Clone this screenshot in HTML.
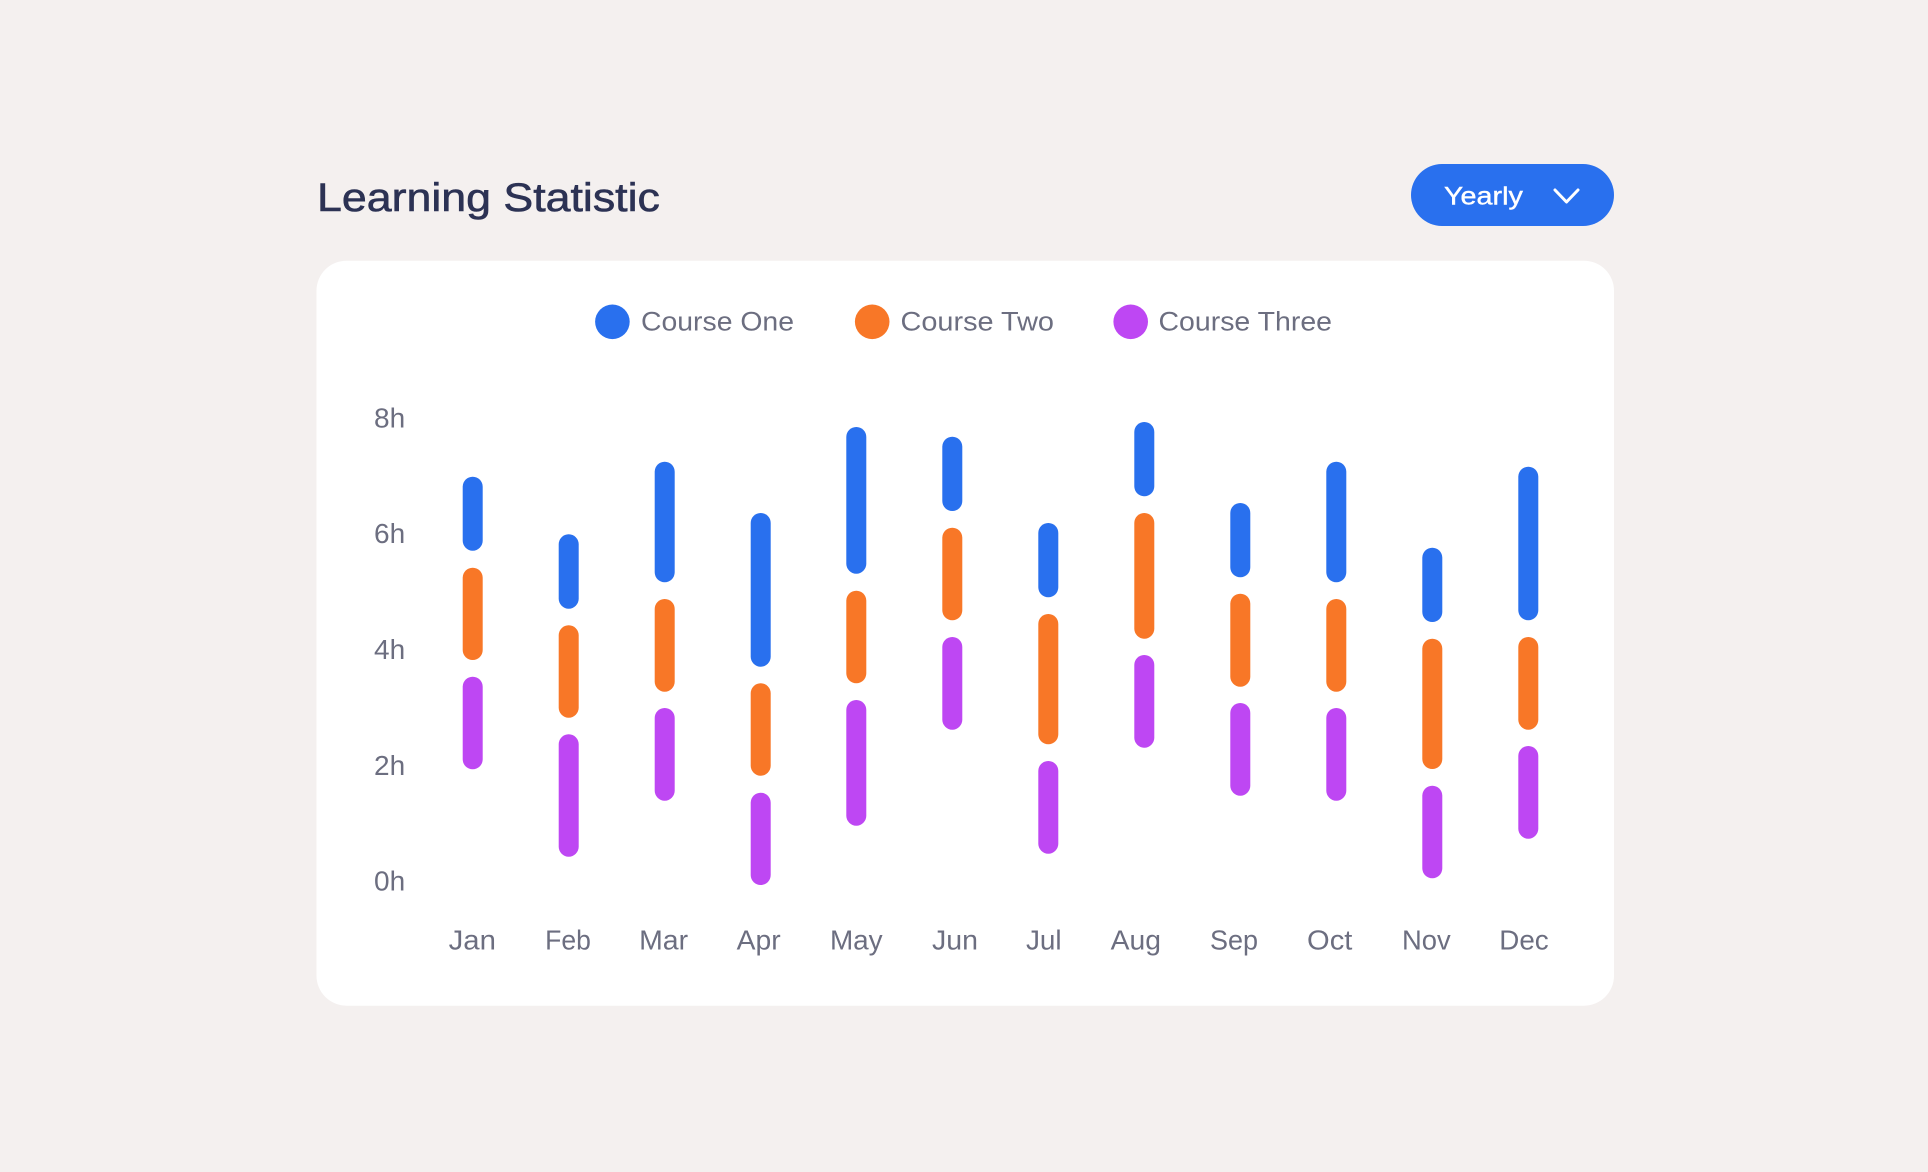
<!DOCTYPE html>
<html>
<head>
<meta charset="utf-8">
<style>
  html, body { margin: 0; padding: 0; background: #f4f0ef; }
  body { width: 1928px; height: 1172px; overflow: hidden; }
  svg { display: block; }
  text { font-family: "Liberation Sans", "DejaVu Sans", sans-serif; }
</style>
</head>
<body>
<svg width="1928" height="1172" viewBox="0 0 1928 1172" xmlns="http://www.w3.org/2000/svg">
  <rect x="0" y="0" width="1928" height="1172" fill="#f4f0ef"/>

  <!-- Title -->
  <text transform="translate(317,211) scale(1.118,1)" x="0" y="0" font-size="40" fill="#2c3254" stroke="#2c3254" stroke-width="0.6">Learning Statistic</text>

  <!-- Yearly button -->
  <rect x="1411" y="164" width="203" height="62" rx="31" ry="31" fill="#2970ee"/>
  <text transform="translate(1444,204.5) scale(1.15,1)" x="0" y="0" font-size="25" fill="#ffffff" stroke="#ffffff" stroke-width="0.4">Yearly</text>
  <polyline points="1555,190 1566.5,202 1578,190" fill="none" stroke="#ffffff" stroke-width="3" stroke-linecap="round" stroke-linejoin="round"/>

  <!-- Card -->
  <rect x="316.5" y="260.7" width="1297.5" height="745" rx="30" ry="30" fill="#ffffff"/>

  <!-- Legend -->
  <circle cx="612.4" cy="321.8" r="17.3" fill="#2970ee"/>
  <text x="641" y="330.7" font-size="27" fill="#6c6e80" textLength="153" lengthAdjust="spacingAndGlyphs">Course One</text>
  <circle cx="872.2" cy="321.8" r="17.3" fill="#f87727"/>
  <text x="900.5" y="330.7" font-size="27" fill="#6c6e80" textLength="153.5" lengthAdjust="spacingAndGlyphs">Course Two</text>
  <circle cx="1130.7" cy="321.8" r="17.3" fill="#be47f3"/>
  <text x="1158.5" y="330.7" font-size="27" fill="#6c6e80" textLength="173.5" lengthAdjust="spacingAndGlyphs">Course Three</text>

  <!-- Y axis labels -->
  <g font-size="28" fill="#6c6e80">
    <text x="374" y="427.3">8h</text>
    <text x="374" y="543.2">6h</text>
    <text x="374" y="659">4h</text>
    <text x="374" y="775">2h</text>
    <text x="374" y="890.6">0h</text>
  </g>

  <!-- X axis labels -->
  <g font-size="28" fill="#6c6e80" text-anchor="middle">
    <text x="472.3" y="949.3" textLength="47.3" lengthAdjust="spacingAndGlyphs">Jan</text>
    <text x="568" y="949.3" textLength="45.7" lengthAdjust="spacingAndGlyphs">Feb</text>
    <text x="663.6" y="949.3" textLength="49" lengthAdjust="spacingAndGlyphs">Mar</text>
    <text x="758.7" y="949.3" textLength="44" lengthAdjust="spacingAndGlyphs">Apr</text>
    <text x="856.3" y="949.3" textLength="52.7" lengthAdjust="spacingAndGlyphs">May</text>
    <text x="955" y="949.3" textLength="46" lengthAdjust="spacingAndGlyphs">Jun</text>
    <text x="1043.8" y="949.3" textLength="35.7" lengthAdjust="spacingAndGlyphs">Jul</text>
    <text x="1135.8" y="949.3" textLength="50.3" lengthAdjust="spacingAndGlyphs">Aug</text>
    <text x="1234" y="949.3" textLength="48" lengthAdjust="spacingAndGlyphs">Sep</text>
    <text x="1329.7" y="949.3" textLength="45.3" lengthAdjust="spacingAndGlyphs">Oct</text>
    <text x="1426.3" y="949.3" textLength="48.7" lengthAdjust="spacingAndGlyphs">Nov</text>
    <text x="1524" y="949.3" textLength="49.4" lengthAdjust="spacingAndGlyphs">Dec</text>
  </g>

  <!-- Bars: Course One (blue) -->
  <g fill="#2970ee">
    <rect x="462.7" y="476.7" width="20" height="74" rx="10"/>
    <rect x="558.7" y="534.3" width="20" height="74.4" rx="10"/>
    <rect x="654.7" y="461.7" width="20" height="120.6" rx="10"/>
    <rect x="750.7" y="513" width="20" height="153.7" rx="10"/>
    <rect x="846.3" y="427" width="20" height="146.7" rx="10"/>
    <rect x="942.3" y="436.7" width="20" height="74.3" rx="10"/>
    <rect x="1038.3" y="523" width="20" height="74.3" rx="10"/>
    <rect x="1134.3" y="422" width="20" height="74.3" rx="10"/>
    <rect x="1230.3" y="503" width="20" height="74.3" rx="10"/>
    <rect x="1326.3" y="461.7" width="20" height="120.6" rx="10"/>
    <rect x="1422.3" y="547.7" width="20" height="74.3" rx="10"/>
    <rect x="1518.3" y="466.7" width="20" height="153.6" rx="10"/>
  </g>

  <!-- Bars: Course Two (orange) -->
  <g fill="#f87727">
    <rect x="462.7" y="567.7" width="20" height="92.3" rx="10"/>
    <rect x="558.7" y="625.3" width="20" height="92.4" rx="10"/>
    <rect x="654.7" y="599" width="20" height="92.7" rx="10"/>
    <rect x="750.7" y="683.3" width="20" height="92.4" rx="10"/>
    <rect x="846.3" y="590.7" width="20" height="92.6" rx="10"/>
    <rect x="942.3" y="527.7" width="20" height="92.6" rx="10"/>
    <rect x="1038.3" y="614" width="20" height="130.3" rx="10"/>
    <rect x="1134.3" y="513" width="20" height="125.7" rx="10"/>
    <rect x="1230.3" y="593.7" width="20" height="93" rx="10"/>
    <rect x="1326.3" y="599" width="20" height="92.7" rx="10"/>
    <rect x="1422.3" y="638.7" width="20" height="130.3" rx="10"/>
    <rect x="1518.3" y="637" width="20" height="92.7" rx="10"/>
  </g>

  <!-- Bars: Course Three (purple) -->
  <g fill="#be47f3">
    <rect x="462.7" y="676.7" width="20" height="92.6" rx="10"/>
    <rect x="558.7" y="734.3" width="20" height="122.4" rx="10"/>
    <rect x="654.7" y="708" width="20" height="92.7" rx="10"/>
    <rect x="750.7" y="792.7" width="20" height="92.3" rx="10"/>
    <rect x="846.3" y="700" width="20" height="125.7" rx="10"/>
    <rect x="942.3" y="637" width="20" height="92.7" rx="10"/>
    <rect x="1038.3" y="761" width="20" height="92.7" rx="10"/>
    <rect x="1134.3" y="655" width="20" height="92.7" rx="10"/>
    <rect x="1230.3" y="703" width="20" height="92.7" rx="10"/>
    <rect x="1326.3" y="708" width="20" height="92.7" rx="10"/>
    <rect x="1422.3" y="785.7" width="20" height="92.6" rx="10"/>
    <rect x="1518.3" y="746" width="20" height="92.7" rx="10"/>
  </g>
</svg>
</body>
</html>
